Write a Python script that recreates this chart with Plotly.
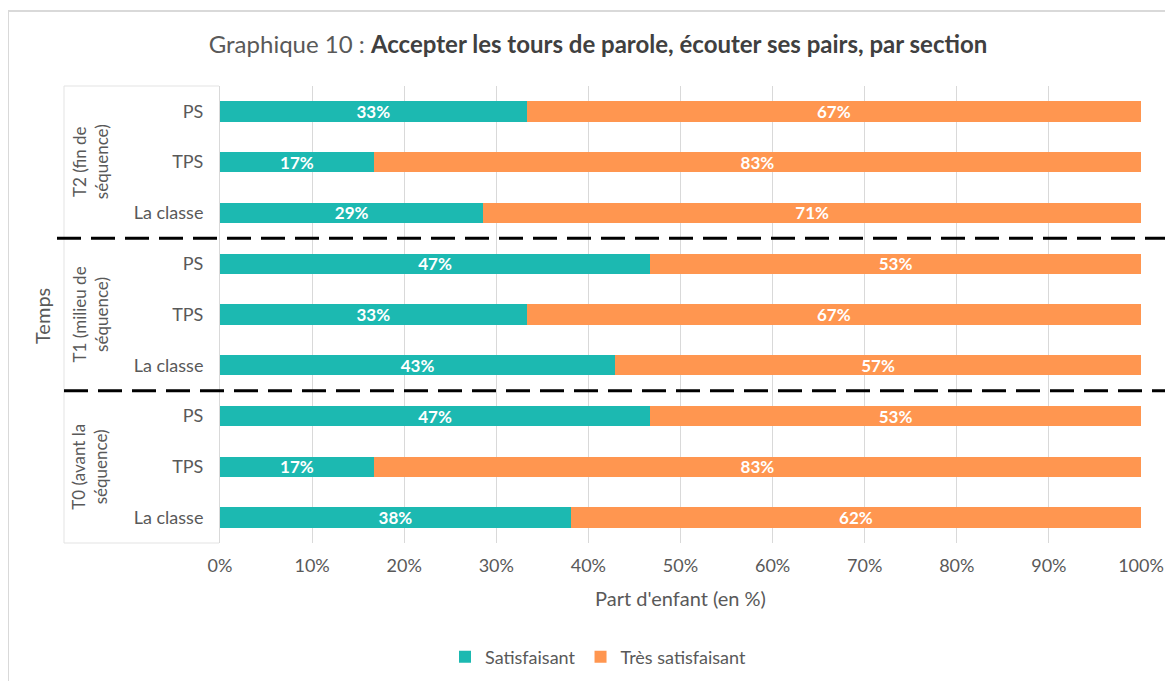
import plotly.graph_objects as go

# ---- data ----
periods = ["T2 (fin de<br>séquence)", "T1 (milieu de<br>séquence)", "T0 (avant la<br>séquence)"]
sections = ["PS", "TPS", "La classe"]
satisfaisant = [33.3, 16.7, 28.6, 46.7, 33.3, 42.9, 46.7, 16.7, 38.1]
tres_satisfaisant = [66.7, 83.3, 71.4, 53.3, 66.7, 57.1, 53.3, 83.3, 61.9]
series_names = ["Satisfaisant", "Très satisfaisant"]
colors = ["#1CB9B1", "#FF9650"]
x_ticks = list(range(0, 101, 10))
x_ticktext = [f"{v}%" for v in x_ticks]

row_labels = [s for _ in periods for s in sections]
rows = list(range(len(row_labels)))

FONT = "Lato, 'Open Sans', sans-serif"
GRAY = "#595959"

OFF = 8  # page body margin
W, H = 1173 - OFF, 681 - OFF
L, T = 220 - OFF, 86 - OFF
R = W - (1141 - OFF)
B = H - (543 - OFF)
pw, ph = W - L - R, H - T - B

def px_x(px):
    return (px - OFF - L) / pw

def px_y(py):
    return 1 - (py - OFF - T) / ph

fig = go.Figure()
for name, vals, col in zip(series_names, [satisfaisant, tres_satisfaisant], colors):
    fig.add_trace(go.Bar(
        y=rows, x=vals, orientation="h", name=name,
        marker=dict(color=col, line=dict(width=0)),
        text=vals, texttemplate="%{x:.0f}%", textposition="inside",
        insidetextanchor="middle", constraintext="none",
        textfont=dict(color="white", size=17, family=FONT, weight="bold"),
    ))

shapes = []
# chart border
shapes.append(dict(type="rect", xref="paper", yref="paper",
                   x0=px_x(8), x1=px_x(1200), y0=px_y(720), y1=px_y(11),
                   line=dict(color="#D9D9D9", width=2), layer="below"))
# group box lines
shapes.append(dict(type="line", xref="paper", yref="paper",
                   x0=px_x(64), x1=px_x(64), y0=px_y(86), y1=px_y(543),
                   line=dict(color="#E3E3E3", width=1)))
shapes.append(dict(type="line", xref="paper", yref="paper",
                   x0=px_x(64), x1=px_x(219), y0=px_y(86), y1=px_y(86),
                   line=dict(color="#E3E3E3", width=1)))
shapes.append(dict(type="line", xref="paper", yref="paper",
                   x0=px_x(64), x1=px_x(219), y0=px_y(543), y1=px_y(543),
                   line=dict(color="#E3E3E3", width=1)))
# dashed separators between periods
for i, x0px in zip(range(1, len(periods)), [57, 64]):
    yv = i * len(sections) - 0.5
    shapes.append(dict(type="line", xref="paper", yref="y",
                       x0=px_x(x0px), x1=px_x(1200), y0=yv, y1=yv,
                       line=dict(color="black", width=3, dash="24px,10px")))

annotations = []
for i, p in enumerate(periods):
    annotations.append(dict(
        x=px_x(90), xref="paper", y=i * len(sections) + (len(sections) - 1) / 2, yref="y",
        text=p, textangle=-90, showarrow=False,
        font=dict(size=17, color=GRAY, family=FONT), xanchor="center", yanchor="middle"))
annotations.append(dict(
    x=px_x(42), xref="paper", y=px_y(316), yref="paper",
    text="Temps", textangle=-90, showarrow=False,
    font=dict(size=20, color=GRAY, family=FONT), xanchor="center", yanchor="middle"))

fig.update_layout(
    width=W, height=H,
    margin=dict(l=L, r=R, t=T, b=B, autoexpand=False),
    paper_bgcolor="white", plot_bgcolor="white",
    barmode="stack", bargap=0.6,
    uniformtext=dict(minsize=17, mode="show"),
    title=dict(
        text="Graphique 10 : <b style='color:#404040'>Accepter les tours de parole, écouter ses pairs, par section</b>",
        x=px_x(598), xref="paper", xanchor="center",
        y=1 - (45 - OFF) / H, yref="container", yanchor="middle",
        font=dict(size=24, color=GRAY, family=FONT)),
    font=dict(family=FONT, color=GRAY, size=18),
    xaxis=dict(range=[0, 100], tickvals=x_ticks, ticktext=x_ticktext,
               showgrid=True, gridcolor="#D9D9D9", gridwidth=1,
               zeroline=False, showline=False, automargin=False,
               tickfont=dict(size=18, color=GRAY), ticklabelstandoff=10,
               title=dict(text="Part d'enfant (en %)", font=dict(size=20, color=GRAY), standoff=16)),
    yaxis=dict(tickvals=rows, ticktext=row_labels, range=[len(rows) - 0.5, -0.5],
               showgrid=False, zeroline=False, showline=True, linecolor="#D9D9D9", linewidth=1,
               automargin=False,
               tickfont=dict(size=18, color=GRAY), ticklabelstandoff=12),
    legend=dict(orientation="h", x=px_x(598), xanchor="center",
                y=1 - (657 - OFF) / H, yref="container", yanchor="middle",
                font=dict(size=18, color=GRAY), itemwidth=30, traceorder="normal"),
    shapes=shapes, annotations=annotations,
)

fig.write_html("out.html")
